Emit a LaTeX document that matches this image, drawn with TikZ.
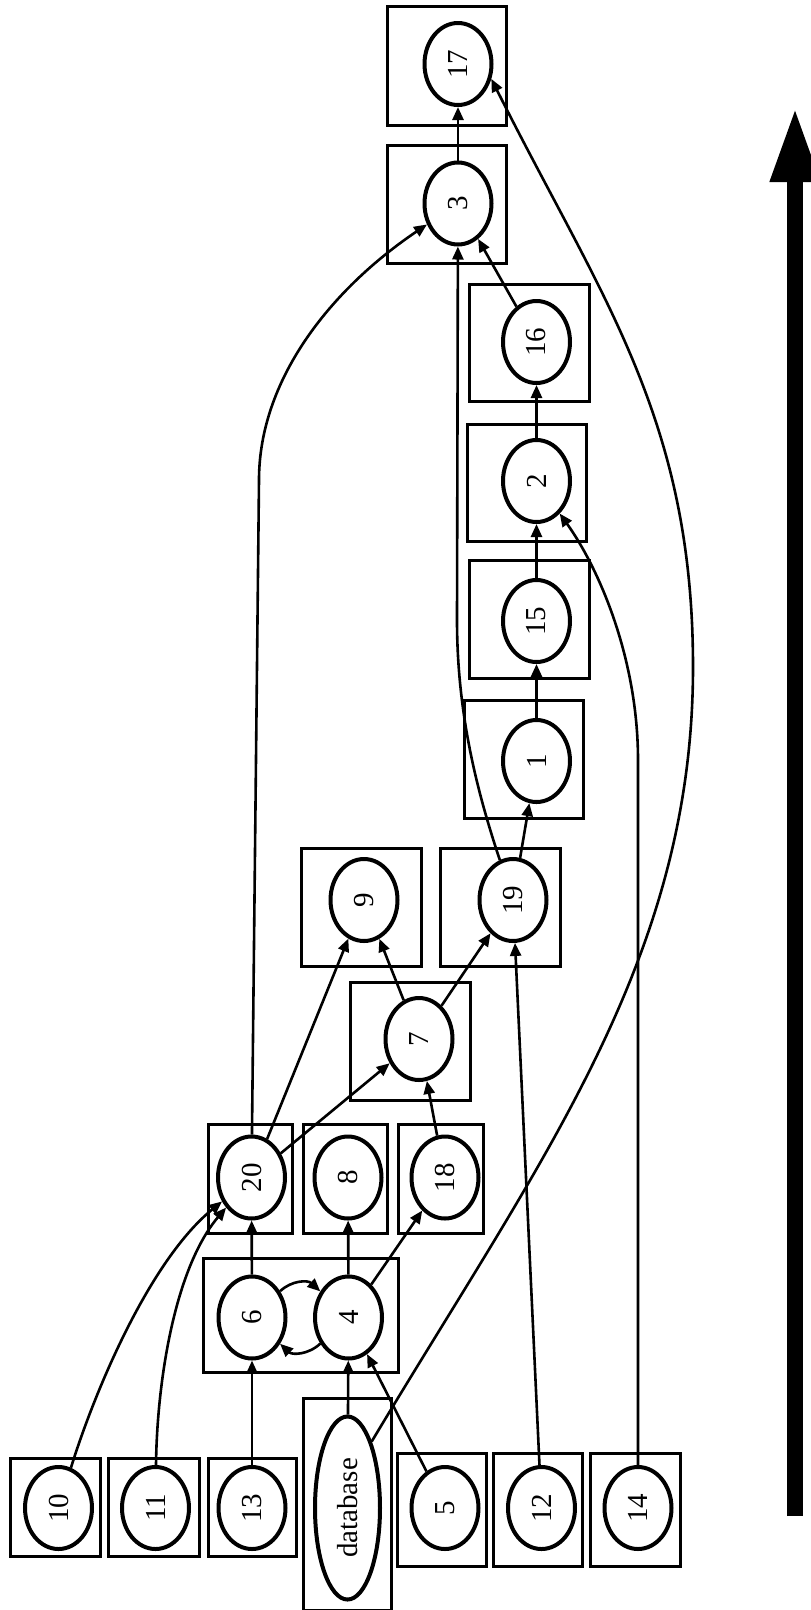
\documentclass[tikz,border=0pt]{standalone}
\usepackage{fontspec}
\setmainfont{Liberation Serif}
\usetikzlibrary{shapes.geometric,arrows.meta}
\begin{document}
\begin{tikzpicture}[x=1pt,y=-1pt,
  nd/.style={ellipse,draw,line width=4pt,minimum width=67pt,minimum height=82pt,inner sep=0pt,font=\fontsize{29}{34}\selectfont},
  cl/.style={draw,line width=3pt},
  ed/.style={line width=2.6pt,-{Triangle[length=13pt,width=11pt]}},
  big/.style={line width=16pt,-{Triangle[length=75pt,width=46pt]}}
]
\useasboundingbox (0,0) rectangle (811,1610);
% cluster boxes
\draw[cl] (387.5,6.5) rectangle (506.5,125.5);
\draw[cl] (387.5,145.5) rectangle (506.5,263.5);
\draw[cl] (469.5,284.5) rectangle (589.5,401.5);
\draw[cl] (467.5,424.5) rectangle (586.5,541.5);
\draw[cl] (469.5,560.5) rectangle (589.5,678.5);
\draw[cl] (464.5,700.5) rectangle (583.5,818.5);
\draw[cl] (440.5,848.5) rectangle (560.5,966.5);
\draw[cl] (301.5,848.5) rectangle (421.5,966.5);
\draw[cl] (350.5,982.5) rectangle (470.5,1100.5);
\draw[cl] (208.5,1124.5) rectangle (292.5,1233.5);
\draw[cl] (303.5,1124.5) rectangle (387.5,1233.5);
\draw[cl] (398.5,1124.5) rectangle (483.5,1233.5);
\draw[cl] (203.5,1258.5) rectangle (398.5,1372.5);
\draw[cl] (10.5,1458.5) rectangle (100.5,1556.5);
\draw[cl] (108.5,1458.5) rectangle (199.5,1556.5);
\draw[cl] (208.5,1458.5) rectangle (296.5,1556.5);
\draw[cl] (303.5,1398.5) rectangle (391.5,1610);
\draw[cl] (397.5,1453.5) rectangle (486.5,1566.5);
\draw[cl] (493.5,1453.5) rectangle (582.5,1566.5);
\draw[cl] (590.5,1453.5) rectangle (680.5,1566.5);
% nodes
\node[nd] (n17) at (458,64) {\rotatebox{90}{17}};
\node[nd] (n3) at (458,203.5) {\rotatebox{90}{3}};
\node[nd] (n16) at (536.5,342) {\rotatebox{90}{16}};
\node[nd] (n2) at (536.5,481) {\rotatebox{90}{2}};
\node[nd] (n15) at (536.5,621) {\rotatebox{90}{15}};
\node[nd] (n1) at (536.5,761) {\rotatebox{90}{1}};
\node[nd] (n19) at (513,900) {\rotatebox{90}{19}};
\node[nd] (n9) at (364,900) {\rotatebox{90}{9}};
\node[nd] (n7) at (419,1039) {\rotatebox{90}{7}};
\node[nd] (n20) at (251.5,1177.5) {\rotatebox{90}{20}};
\node[nd] (n8) at (348,1177.5) {\rotatebox{90}{8}};
\node[nd] (n18) at (445,1177.5) {\rotatebox{90}{18}};
\node[nd] (n6) at (252,1317.5) {\rotatebox{90}{6}};
\node[nd] (n4) at (348.5,1317.5) {\rotatebox{90}{4}};
\node[nd] (n10) at (58.5,1508) {\rotatebox{90}{10}};
\node[nd] (n11) at (155.5,1508) {\rotatebox{90}{11}};
\node[nd] (n13) at (252,1508) {\rotatebox{90}{13}};
\node[nd,minimum width=65pt,minimum height=183pt] (ndb) at (347.5,1508) {\rotatebox{90}{database}};
\node[nd] (n5) at (445,1508) {\rotatebox{90}{5}};
\node[nd] (n12) at (541.5,1508) {\rotatebox{90}{12}};
\node[nd] (n14) at (638,1508) {\rotatebox{90}{14}};
% bend coordinates
\coordinate (c19) at (457,620);
\coordinate (c20) at (259,480);
\coordinate (c14) at (638,760);
\coordinate (c17) at (693,667);
\coordinate (ab) at (795,1516);
\coordinate (at) at (795,107);
% edges
\draw[ed] (n3) -- (n17);
\draw[ed] (n16) -- (n3);
\draw[ed] (n2) -- (n16);
\draw[ed] (n15) -- (n2);
\draw[ed] (n1) -- (n15);
\draw[ed] (n19) -- (n1);
\draw[ed] (n19) .. controls (480,800) and (457,720) .. (c19) -- (n3);
\draw[ed] (n12) -- (n19);
\draw[ed] (n7) -- (n19);
\draw[ed] (n7) -- (n9);
\draw[ed] (n20) -- (n9);
\draw[ed] (n20) -- (n7);
\draw[ed] (n18) -- (n7);
\draw[ed] (n20) -- (c20) .. controls (259,380) and (330,290) .. (n3);
\draw[ed] (n6) -- (n20);
\draw[ed] (n4) -- (n8);
\draw[ed] (n4) -- (n18);
\draw[ed] (n6) .. controls (292,1280) and (308,1280) .. (n4);
\draw[ed] (n4) .. controls (308,1355) and (292,1355) .. (n6);
\draw[ed] (n13) -- (n6);
\draw[ed] (ndb) -- (n4);
\draw[ed] (n5) -- (n4);
\draw[ed] (n10) .. controls (95,1390) and (150,1260) .. (n20);
\draw[ed] (n11) .. controls (157,1380) and (175,1268) .. (n20);
\draw[ed] (n14) -- (c14) .. controls (638,660) and (600,570) .. (n2);
\draw[ed] (ndb.70) .. controls (540,1160) and (693,960) .. (c17) .. controls (693,417) and (600,296) .. (n17.-24);
% direction arrow
\draw[big] (ab) -- (at);
\end{tikzpicture}
\end{document}
